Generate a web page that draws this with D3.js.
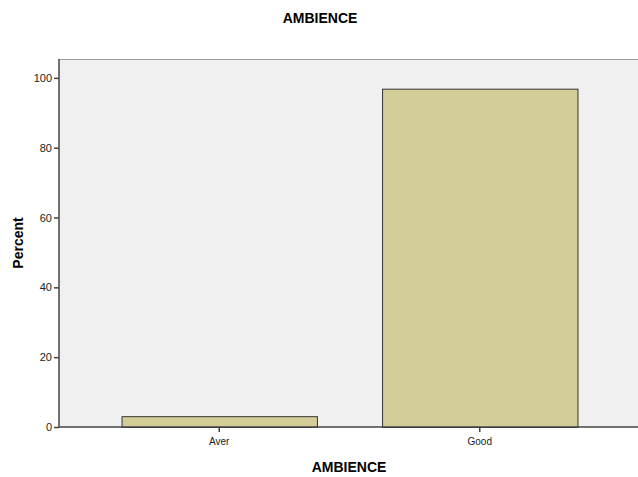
<!DOCTYPE html>
<html><head><meta charset="utf-8">
<script src="https://cdn.jsdelivr.net/npm/d3@7"></script>
<style>body{margin:0;background:#fff;} text{font-family:"Liberation Sans",Arial,sans-serif;}</style>
</head><body>
<svg id="c" width="638" height="477"></svg>
<script>
const categories = ["Aver", "Good"];
const percents = [3.1, 96.9];
const yTicks = [0, 20, 40, 60, 80, 100];
const title = "AMBIENCE";
const xTitle = "AMBIENCE";
const yTitle = "Percent";

const svg = d3.select("#c");
const L = 59, R = 640, T = 59, B = 427;
const x = d3.scaleBand().domain(categories).range([L, R]).paddingInner(0.25).paddingOuter(0.24);
const y = d3.scaleLinear().domain([0, 105.4]).range([B, T]);

svg.append("rect").attr("x", L).attr("y", T).attr("width", R - L).attr("height", B - T).attr("fill", "#f0f0f0");
svg.append("line").attr("x1", L).attr("x2", R).attr("y1", T + 0.5).attr("y2", T + 0.5).attr("stroke", "#a0a0a0");

svg.selectAll("rect.bar").data(categories).enter().append("rect").attr("class", "bar")
  .attr("x", d => x(d) + 0.5).attr("y", (d, i) => y(percents[i]) + 0.5)
  .attr("width", x.bandwidth()).attr("height", (d, i) => B - y(percents[i]))
  .attr("fill", "#d3ce97").attr("stroke", "#333").attr("stroke-width", 1);

const ya = svg.append("g").attr("transform", `translate(${L},0)`)
  .call(d3.axisLeft(y).tickValues(yTicks).tickSize(5).tickPadding(2));
ya.select(".domain").attr("stroke", "#444").attr("stroke-width", 1.5).attr("d", `M0,${T}V${B}`);
ya.selectAll(".tick line").attr("stroke", "#444").attr("stroke-width", 1.5);
ya.selectAll("text").attr("font-size", 11).attr("fill", "#222").style("font-family", "Liberation Sans, Arial, sans-serif");

const xa = svg.append("g").attr("transform", `translate(0,${B})`)
  .call(d3.axisBottom(x).tickSize(5).tickPadding(6));
xa.select(".domain").attr("stroke", "#444").attr("stroke-width", 1.5).attr("d", `M${L},0H${R}`);
xa.selectAll(".tick line").attr("stroke", "#444").attr("stroke-width", 1.5);
xa.selectAll("text").attr("font-size", 10).attr("fill", "#222").style("font-family", "Liberation Sans, Arial, sans-serif");

svg.append("text").attr("x", 320).attr("y", 23).attr("text-anchor", "middle")
  .attr("font-size", 14).attr("font-weight", "bold").text(title);
svg.append("text").attr("x", 349).attr("y", 472).attr("text-anchor", "middle")
  .attr("font-size", 14).attr("font-weight", "bold").text(xTitle);
svg.append("text").attr("transform", "translate(23,243) rotate(-90)").attr("text-anchor", "middle")
  .attr("font-size", 14).attr("font-weight", "bold").text(yTitle);
</script>
</body></html>
